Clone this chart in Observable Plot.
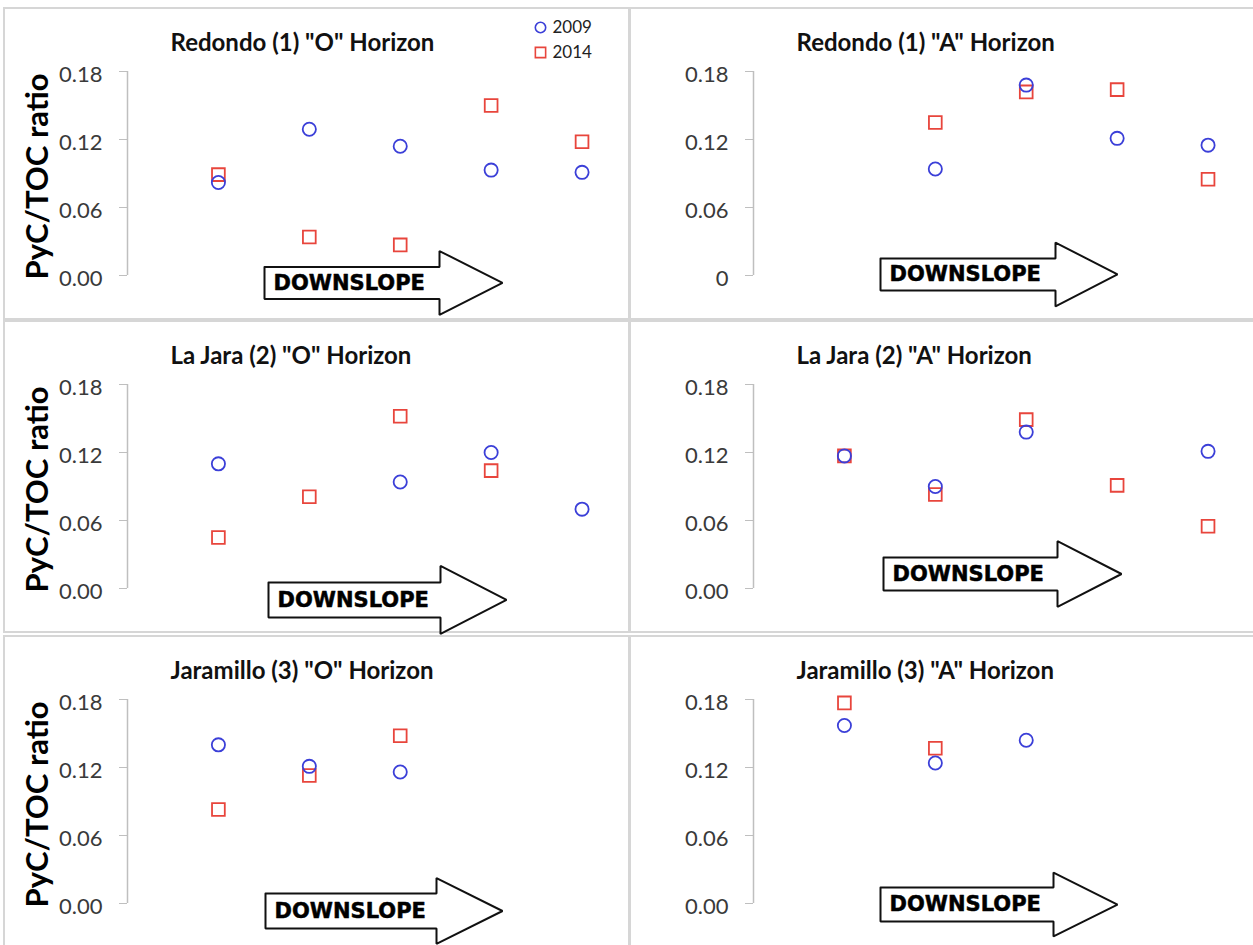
<!DOCTYPE html>
<html>
<head>
<meta charset="utf-8">
<script src="https://cdn.jsdelivr.net/npm/d3@7"></script>
<script src="https://cdn.jsdelivr.net/npm/@observablehq/plot@0.6"></script>
<style>
  html, body { margin: 0; padding: 0; background: #fff; }
  #fig { position: relative; width: 1253px; height: 945px; overflow: hidden; background: #fff; font-family: Lato, sans-serif; }
  .panel { position: absolute; box-sizing: border-box; border: 2px solid #d6d6d6; background: #fff; }
  .plotwrap { position: absolute; }
  .plotwrap svg { overflow: visible; }
  .plotwrap [aria-label="y-axis tick"] { stroke: #bfbfbf; }
  .plotwrap [aria-label="y-axis"] .tick line { stroke: #bfbfbf; }
</style>
</head>
<body>
<div id="fig"></div>
<script>
// ---------- data ----------
const slots = [1, 2, 3, 4, 5];
const years = ["2009", "2014"];
const panelTitles = [
  'Redondo (1) "O" Horizon', 'Redondo (1) "A" Horizon',
  'La Jara (2) "O" Horizon', 'La Jara (2) "A" Horizon',
  'Jaramillo (3) "O" Horizon', 'Jaramillo (3) "A" Horizon'
];
const redondoO_2009 = [0.082, 0.129, 0.114, 0.093, 0.091];
const redondoO_2014 = [0.089, 0.034, 0.027, 0.150, 0.118];
const redondoA_2009 = [null, 0.094, 0.168, 0.121, 0.115];
const redondoA_2014 = [null, 0.135, 0.162, 0.164, 0.085];
const laJaraO_2009 = [0.110, null, 0.094, 0.120, 0.070];
const laJaraO_2014 = [0.045, 0.081, 0.152, 0.104, null];
const laJaraA_2009 = [0.117, 0.090, 0.138, null, 0.121];
const laJaraA_2014 = [0.117, 0.083, 0.149, 0.091, 0.055];
const jaramilloO_2009 = [0.140, 0.121, 0.116, null, null];
const jaramilloO_2014 = [0.083, 0.113, 0.148, null, null];
const jaramilloA_2009 = [0.157, 0.124, 0.144, null, null];
const jaramilloA_2014 = [0.177, 0.137, null, null, null];
const yTicks = [0, 0.06, 0.12, 0.18];
const yTickLabels = ["0.00", "0.06", "0.12", "0.18"];
const yTickLabelsRedondoA = ["0", "0.06", "0.12", "0.18"];
const yLabel = "PyC/TOC ratio";
const arrowText = "DOWNSLOPE";

// ---------- annotation geometry (arrow, in slot / ratio units) ----------
const arrows = [
  {left: 1.507, base: 3.432, tip: 4.125, yc: -0.0066, bh: 0.0141, hh: 0.0282},
  {left: 1.397, base: 3.322, tip: 4.004, yc: 0.0009, bh: 0.0141, hh: 0.0282},
  {left: 1.551, base: 3.443, tip: 4.169, yc: -0.0101, bh: 0.0154, hh: 0.0300},
  {left: 1.430, base: 3.344, tip: 4.048, yc: 0.0128, bh: 0.0146, hh: 0.0290},
  {left: 1.518, base: 3.399, tip: 4.125, yc: -0.0066, bh: 0.0154, hh: 0.0290},
  {left: 1.397, base: 3.300, tip: 4.004, yc: -0.0009, bh: 0.0150, hh: 0.0282}
];

const series = [
  [redondoO_2009, redondoO_2014], [redondoA_2009, redondoA_2014],
  [laJaraO_2009, laJaraO_2014], [laJaraA_2009, laJaraA_2014],
  [jaramilloO_2009, jaramilloO_2014], [jaramilloA_2009, jaramilloA_2014]
];

const BLUE = "#3b3fd8", RED = "#e8453c";
const fig = document.getElementById("fig");
const colLeft = [5, 631], rowTop = [8, 321, 636];
const PW = 622, PH = 311;

series.forEach(([s09, s14], i) => {
  const col = i % 2, row = Math.floor(i / 2);
  const left = colLeft[col], top = rowTop[row];
  const frame = document.createElement("div");
  frame.className = "panel";
  frame.style.left = (left - 2) + "px";
  frame.style.top = (top - 1) + "px";
  frame.style.width = (PW + 5) + "px";
  frame.style.height = (PH + 2) + "px";
  fig.appendChild(frame);

  const pts = [];
  slots.forEach((s, j) => {
    if (s09[j] != null) pts.push({slot: s, value: s09[j], year: years[0]});
    if (s14[j] != null) pts.push({slot: s, value: s14[j], year: years[1]});
  });
  const a = arrows[i];
  const arrowPts = [
    [a.left, a.yc + a.bh], [a.base, a.yc + a.bh], [a.base, a.yc + a.hh], [a.tip, a.yc],
    [a.base, a.yc - a.hh], [a.base, a.yc - a.bh], [a.left, a.yc - a.bh], [a.left, a.yc + a.bh]
  ];
  const labels = i === 1 ? yTickLabelsRedondoA : yTickLabels;

  const marks = [
    Plot.ruleX([0], {y1: yTicks[0], y2: yTicks[yTicks.length - 1], stroke: "#bfbfbf", strokeWidth: 1.5}),
    Plot.text(yTicks, {x: 0, y: d => d, text: (d, k) => labels[k], textAnchor: "end", dx: -25, dy: 3, fontSize: 22, fill: "#3a3a3a"}),
    Plot.line(arrowPts, {x: d => d[0], y: d => d[1], stroke: "#111", strokeWidth: 2, fill: "white", strokeLinejoin: "miter"}),
    Plot.text([arrowText], {x: a.left, y: a.yc, text: d => d, textAnchor: "start", dx: 9, fontFamily: "DejaVu Sans", fontWeight: "bold", fontSize: 21, fill: "#000", stroke: "#000", strokeWidth: 0.5}),
    Plot.dot(pts.filter(d => d.year === "2014"), {x: "slot", y: "value", symbol: "square", r: 7.2, stroke: RED, strokeWidth: 1.8, fill: "none"}),
    Plot.dot(pts.filter(d => d.year === "2009"), {x: "slot", y: "value", symbol: "circle", r: 6.6, stroke: BLUE, strokeWidth: 1.8, fill: "none"}),
    Plot.text([panelTitles[i]], {frameAnchor: "top-left", text: d => d, textAnchor: "start", lineAnchor: "middle", dx: 43, dy: -28, fontSize: 24, fontWeight: "bold", fill: "#111"})
  ];
  if (col === 0) {
    marks.push(Plot.text([yLabel], {frameAnchor: "left", text: d => d, rotate: -90, textAnchor: "middle", lineAnchor: "middle", dx: -89, dy: 3, fontSize: 31, fontWeight: "bold", fill: "#000"}));
  }
  if (i === 0) {
    marks.push(
      Plot.dot([years[0]], {frameAnchor: "top-right", dx: -87, dy: -44, symbol: "circle", r: 5.2, stroke: BLUE, strokeWidth: 1.6, fill: "none"}),
      Plot.dot([years[1]], {frameAnchor: "top-right", dx: -87, dy: -19, symbol: "square", r: 5.8, stroke: RED, strokeWidth: 1.6, fill: "none"}),
      Plot.text([years[0]], {frameAnchor: "top-right", text: d => d, textAnchor: "start", lineAnchor: "middle", dx: -75, dy: -44, fontSize: 17, fill: "#222"}),
      Plot.text([years[1]], {frameAnchor: "top-right", text: d => d, textAnchor: "start", lineAnchor: "middle", dx: -75, dy: -19, fontSize: 17, fill: "#222"})
    );
  }

  const p = Plot.plot({
    width: PW, height: PH,
    marginLeft: 122, marginRight: 0, marginTop: 63, marginBottom: 44,
    style: {fontFamily: "Lato", fontSize: "21px", color: "#404040", background: "transparent", overflow: "visible"},
    x: {domain: [0, 5.5], axis: null},
    y: {domain: [0, 0.18], ticks: yTicks, tickFormat: () => "", tickSize: 8, tickPadding: 0, label: null},
    marks
  });
  const wrap = document.createElement("div");
  wrap.className = "plotwrap";
  wrap.style.left = left + "px";
  wrap.style.top = top + "px";
  wrap.appendChild(p);
  fig.appendChild(wrap);
});
</script>
</body>
</html>
